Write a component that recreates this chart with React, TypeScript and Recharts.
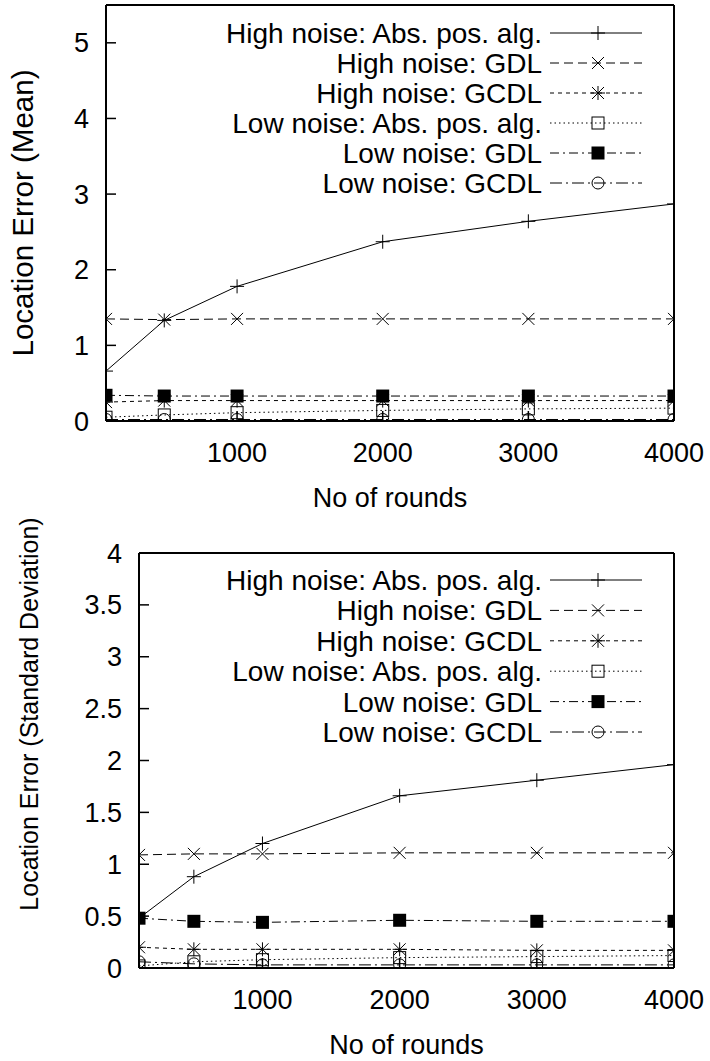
import React from 'react';
import { Legend, Line, LineChart, XAxis, YAxis } from 'recharts';

const FONT = '"Liberation Sans", Arial, Helvetica, sans-serif';
const FS = 27;
const KEY_FS = 28;

// x values (No of rounds)
const rounds = [100, 500, 1000, 2000, 3000, 4000];
const roundTicks = [1000, 2000, 3000, 4000];

// mean location error
const meanTicks = [0, 1, 2, 3, 4, 5];
const highAbsMean = [0.66, 1.33, 1.78, 2.37, 2.64, 2.87];
const highGdlMean = [1.35, 1.34, 1.35, 1.35, 1.35, 1.35];
const highGcdlMean = [0.25, 0.27, 0.27, 0.27, 0.27, 0.27];
const lowAbsMean = [0.05, 0.08, 0.11, 0.14, 0.16, 0.17];
const lowGdlMean = [0.34, 0.33, 0.33, 0.33, 0.33, 0.33];
const lowGcdlMean = [0.02, 0.02, 0.02, 0.02, 0.02, 0.02];

// standard deviation of location error
const sdTicks = [0, 0.5, 1, 1.5, 2, 2.5, 3, 3.5, 4];
const highAbsSd = [0.48, 0.88, 1.2, 1.66, 1.81, 1.96];
const highGdlSd = [1.09, 1.1, 1.1, 1.11, 1.11, 1.11];
const highGcdlSd = [0.2, 0.18, 0.18, 0.18, 0.17, 0.17];
const lowAbsSd = [0.02, 0.06, 0.08, 0.1, 0.11, 0.12];
const lowGdlSd = [0.48, 0.45, 0.44, 0.46, 0.45, 0.45];
const lowGcdlSd = [0.06, 0.04, 0.03, 0.03, 0.03, 0.03];

type Shape = 'plus' | 'cross' | 'star' | 'box' | 'boxFilled' | 'circle';

const SERIES: { key: string; name: string; dash?: string; shape: Shape }[] = [
  { key: 'highAbs', name: 'High noise: Abs. pos. alg.', shape: 'plus' },
  { key: 'highGdl', name: 'High noise: GDL', dash: '9 5', shape: 'cross' },
  { key: 'highGcdl', name: 'High noise: GCDL', dash: '4 4', shape: 'star' },
  { key: 'lowAbs', name: 'Low noise: Abs. pos. alg.', dash: '1.5 3', shape: 'box' },
  { key: 'lowGdl', name: 'Low noise: GDL', dash: '9 4 2 4', shape: 'boxFilled' },
  { key: 'lowGcdl', name: 'Low noise: GCDL', dash: '12 4 2 4', shape: 'circle' },
];

const buildRows = (cols: number[][]) =>
  rounds.map((r, i) => {
    const row: Record<string, number> = { rounds: r };
    SERIES.forEach((s, j) => {
      row[s.key] = cols[j][i];
    });
    return row;
  });

const meanData = buildRows([highAbsMean, highGdlMean, highGcdlMean, lowAbsMean, lowGdlMean, lowGcdlMean]);
const sdData = buildRows([highAbsSd, highGdlSd, highGcdlSd, lowAbsSd, lowGdlSd, lowGcdlSd]);

function Marker({ shape, cx, cy }: { shape: Shape; cx: number; cy: number }) {
  const st = { stroke: '#000', strokeWidth: 1, fill: 'none' };
  if (cx == null || cy == null) return null;
  switch (shape) {
    case 'plus':
      return <path d={`M${cx - 7},${cy}H${cx + 7}M${cx},${cy - 7}V${cy + 7}`} {...st} />;
    case 'cross':
      return <path d={`M${cx - 6},${cy - 6}L${cx + 6},${cy + 6}M${cx - 6},${cy + 6}L${cx + 6},${cy - 6}`} {...st} />;
    case 'star':
      return (
        <path
          d={`M${cx - 7},${cy}H${cx + 7}M${cx},${cy - 7}V${cy + 7}M${cx - 6},${cy - 6}L${cx + 6},${cy + 6}M${cx - 6},${cy + 6}L${cx + 6},${cy - 6}`}
          {...st}
        />
      );
    case 'box':
      return <rect x={cx - 6} y={cy - 6} width={12} height={12} {...st} />;
    case 'boxFilled':
      return <rect x={cx - 6.5} y={cy - 6.5} width={13} height={13} fill="#000" />;
    default:
      return <circle cx={cx} cy={cy} r={6} {...st} />;
  }
}

function KeyBox({ rowY, gap }: { rowY: number; gap: number }) {
  return (
    <svg width={710} height={rowY + gap * 6} style={{ display: 'block' }}>
      {SERIES.map((s, i) => {
        const y = rowY + gap * i;
        return (
          <g key={s.key}>
            <text x={542} y={y + 10} textAnchor="end" fontFamily={FONT} fontSize={KEY_FS} fill="#000">
              {s.name}
            </text>
            <line x1={550} x2={642} y1={y} y2={y} stroke="#000" strokeWidth={1} strokeDasharray={s.dash} />
            <Marker shape={s.shape} cx={598} cy={y} />
          </g>
        );
      })}
    </svg>
  );
}

interface PanelProps {
  data: Record<string, number>[];
  yMax: number;
  yTicks: number[];
  height: number;
  margin: { top: number; right: number; bottom: number; left: number };
  yTitle: string;
  titleX: number;
  titleY?: number;
  titleSize: number;
  keyY: number;
  keyGap: number;
}

function Panel({ data, yMax, yTicks, height, margin, yTitle, titleX, titleY, titleSize, keyY, keyGap }: PanelProps) {
  const tickStyle = { fill: '#000', fontSize: FS, fontFamily: FONT };
  return (
    <LineChart width={710} height={height} data={data} margin={margin}>
      <XAxis
        dataKey="rounds"
        type="number"
        domain={[100, 4000]}
        ticks={roundTicks}
        interval={0}
        allowDataOverflow
        height={40}
        tick={tickStyle}
        tickSize={-10}
        tickMargin={32}
        tickLine={{ stroke: '#000', strokeWidth: 1.5 }}
        axisLine={{ stroke: '#000', strokeWidth: 2 }}
        label={(p: any) => {
          const vb = p.viewBox || {};
          return (
            <text x={vb.x + vb.width / 2} y={vb.y + 86} textAnchor="middle" fontFamily={FONT} fontSize={FS} fill="#000">
              No of rounds
            </text>
          );
        }}
      />
      <XAxis
        xAxisId="top"
        orientation="top"
        type="number"
        domain={[100, 4000]}
        ticks={roundTicks}
        interval={0}
        allowDataOverflow
        mirror
        height={1}
        tick={false}
        tickSize={10}
        tickLine={{ stroke: '#000', strokeWidth: 1.5 }}
        axisLine={{ stroke: '#000', strokeWidth: 2 }}
      />
      <YAxis
        type="number"
        domain={[0, yMax]}
        ticks={yTicks}
        interval={0}
        allowDataOverflow
        width={60}
        tick={tickStyle}
        tickSize={-10}
        tickMargin={27}
        tickLine={{ stroke: '#000', strokeWidth: 1.5 }}
        axisLine={{ stroke: '#000', strokeWidth: 2 }}
        label={(p: any) => {
          const vb = p.viewBox || {};
          const cy = titleY ?? vb.y + vb.height / 2;
          return (
            <text
              x={titleX}
              y={cy}
              transform={`rotate(-90 ${titleX} ${cy})`}
              textAnchor="middle"
              fontFamily={FONT}
              fontSize={titleSize}
              fill="#000"
            >
              {yTitle}
            </text>
          );
        }}
      />
      <YAxis
        yAxisId="right"
        orientation="right"
        type="number"
        domain={[0, yMax]}
        ticks={yTicks}
        interval={0}
        allowDataOverflow
        mirror
        width={1}
        tick={false}
        tickSize={10}
        tickLine={{ stroke: '#000', strokeWidth: 1.5 }}
        axisLine={{ stroke: '#000', strokeWidth: 2 }}
      />
      <Legend
        layout="horizontal"
        verticalAlign="middle"
        align="center"
        wrapperStyle={{ left: 0, top: 0, width: 710 }}
        content={() => <KeyBox rowY={keyY} gap={keyGap} />}
      />
      {SERIES.map((s) => (
        <Line
          key={s.key}
          dataKey={s.key}
          name={s.name}
          type="linear"
          stroke="#000"
          strokeWidth={1}
          strokeDasharray={s.dash}
          isAnimationActive={false}
          dot={(p: any) => (
            <g key={`${s.key}-${p.index}`}>
              <Marker shape={s.shape} cx={p.cx} cy={p.cy} />
            </g>
          )}
          activeDot={false}
        />
      ))}
    </LineChart>
  );
}

export default function App() {
  return (
    <div style={{ position: 'absolute', left: 0, top: 0, width: 710, height: 1061, background: '#fff' }}>
      <div style={{ position: 'absolute', left: 0, top: 0 }}>
        <Panel
          data={meanData}
          yMax={5.5}
          yTicks={meanTicks}
          height={520}
          margin={{ top: 5, right: 36, bottom: 59, left: 46 }}
          yTitle="Location Error (Mean)"
          titleX={33}
          titleSize={29.5}
          keyY={33}
          keyGap={30}
        />
      </div>
      <div style={{ position: 'absolute', left: 0, top: 500 }}>
        <Panel
          data={sdData}
          yMax={4}
          yTicks={sdTicks}
          height={561}
          margin={{ top: 53, right: 36, bottom: 53, left: 79 }}
          yTitle="Location Error (Standard Deviation)"
          titleX={38}
          titleY={214}
          titleSize={25}
          keyY={80}
          keyGap={30.4}
        />
      </div>
    </div>
  );
}
